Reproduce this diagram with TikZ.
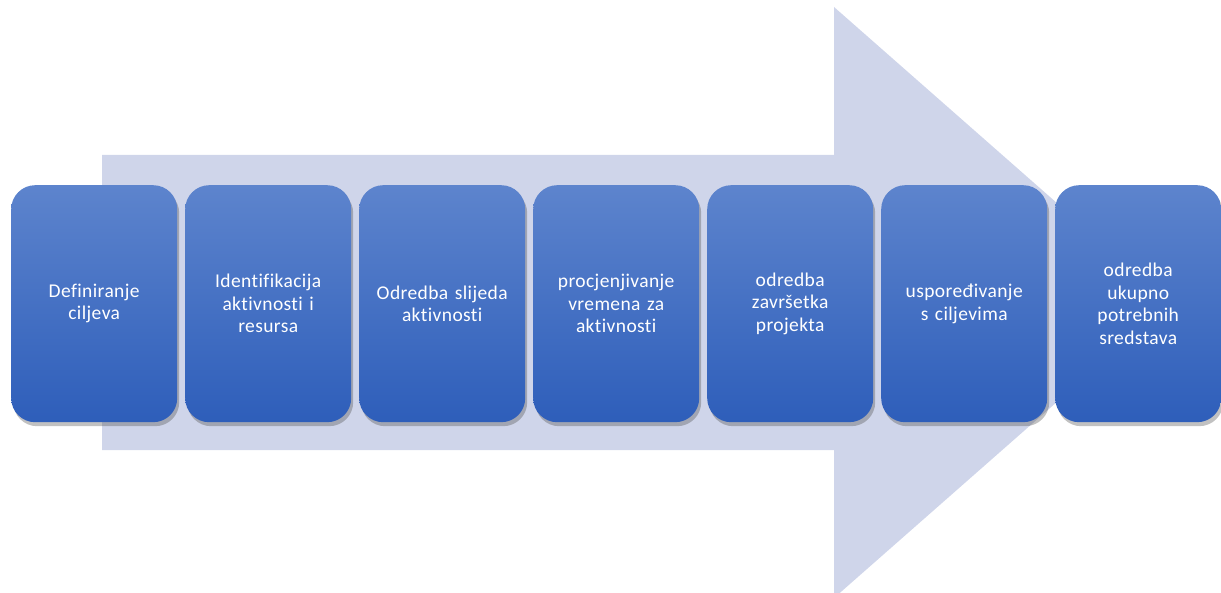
\documentclass[tikz,border=0pt]{standalone}
\usepackage{fontspec}
\setmainfont[Ligatures=NoCommon,LetterSpace=2]{Carlito}
\usetikzlibrary{shadows,shadings}
\definecolor{arrowfill}{HTML}{CFD5EA}
\definecolor{boxtop}{HTML}{5D84CD}
\definecolor{boxbot}{HTML}{2E5EBA}
\tikzset{
  stepbox/.style={rounded corners=24pt, minimum width=166pt, minimum height=237pt,
    anchor=north west, top color=boxtop, bottom color=boxbot, draw=none,
    text=white, align=center, text width=156pt, inner sep=0pt,
    font=\fontsize{19.5pt}{22.5pt}\selectfont,
    drop shadow={shadow xshift=2pt, shadow yshift=-4pt, opacity=0.35, fill=black!70}}
}
\begin{document}
\begin{tikzpicture}[x=1pt,y=-1pt]
\useasboundingbox (0,0) rectangle (1221,593);
\fill[arrowfill] (102,155) -- (834,155) -- (834,7) -- (1170,302.5) -- (834,598) -- (834,450) -- (102,450) -- cycle;
\node[stepbox] (b1) at (11,185) {Definiranje\\ciljeva};
\node[stepbox] (b2) at (185,185) {Identifikacija\\aktivnosti i\\resursa};
\node[stepbox] (b3) at (359,185) {Odredba slijeda\\aktivnosti};
\node[stepbox] (b4) at (533,185) {procjenjivanje\\vremena za\\aktivnosti};
\node[stepbox] (b5) at (707,185) {odredba\\završetka\\projekta};
\node[stepbox] (b6) at (881,185) {uspoređivanje\\s ciljevima};
\node[stepbox] (b7) at (1055,185) {odredba\\ukupno\\potrebnih\\sredstava};
\end{tikzpicture}
\end{document}
